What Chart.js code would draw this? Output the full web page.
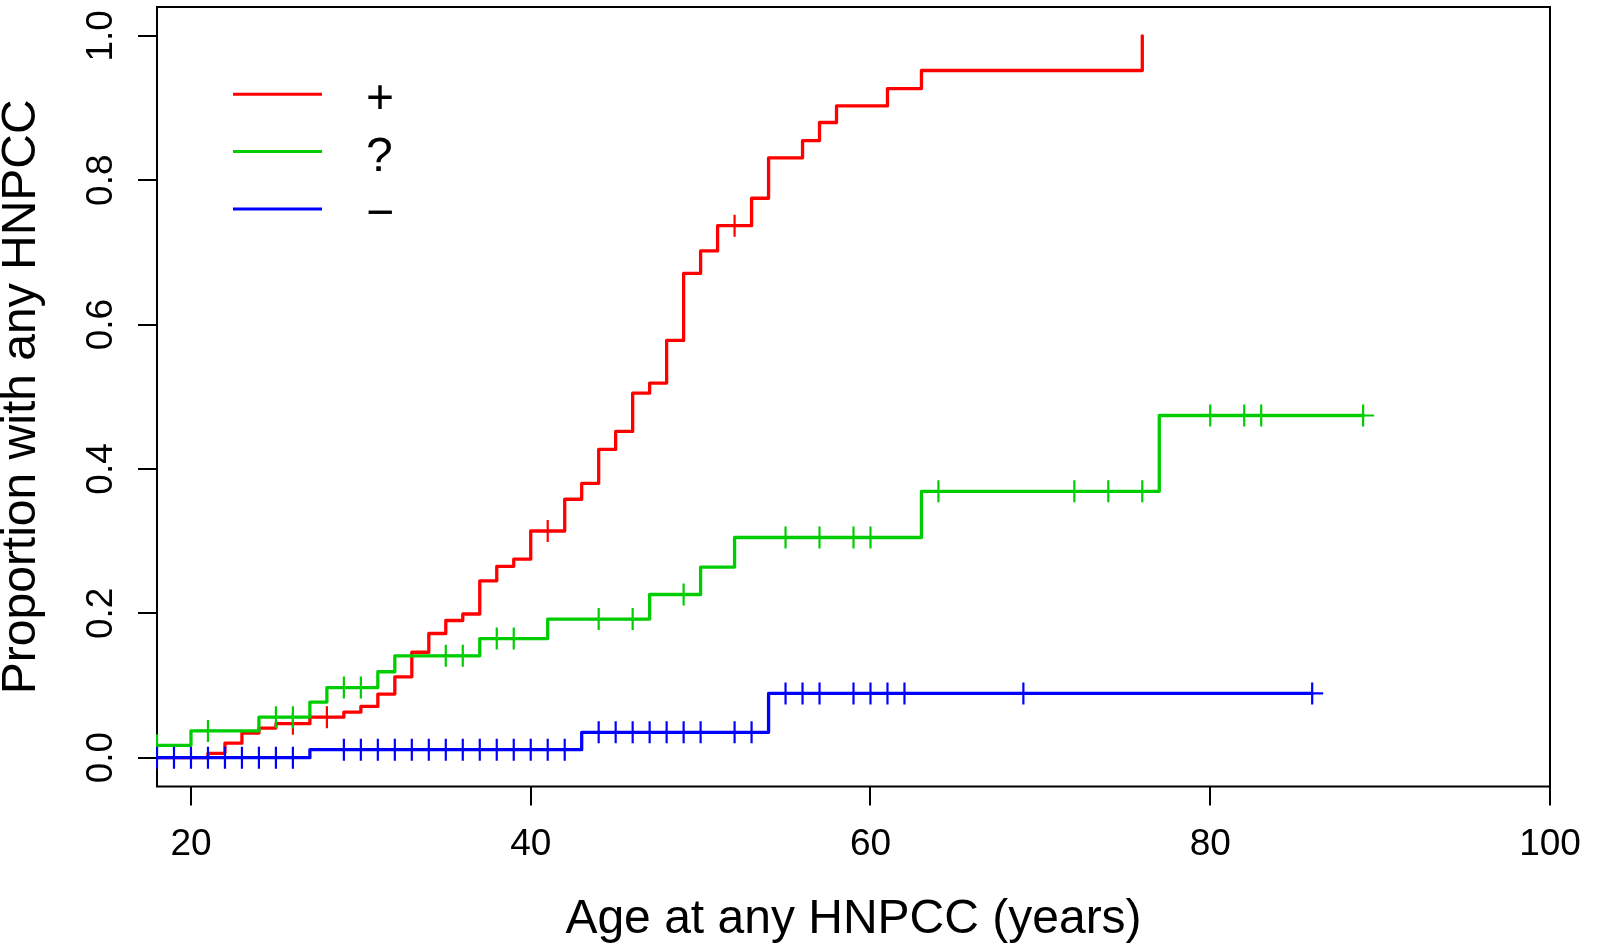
<!DOCTYPE html>
<html>
<head>
<meta charset="utf-8">
<script src="https://cdn.jsdelivr.net/npm/chart.js@4.4.1/dist/chart.umd.min.js"></script>
<style>
html, body { margin: 0; padding: 0; background: #fff; }
canvas { display: block; }
</style>
</head>
<body>
<canvas id="km" width="1599" height="951"></canvas>
<script>
// ===== DATA =====
// each curve: ages where the step happens, proportion after the step
const posAges = [18, 21, 22, 23, 24, 25, 27, 29, 30, 31, 32, 33, 34, 35, 36, 37, 38, 39, 40, 42, 43, 44, 45, 46, 47, 48, 49, 50, 51, 53, 54, 56, 57, 58, 61, 63, 76];
const posProp = [0, 0.006, 0.020, 0.034, 0.041, 0.047, 0.056, 0.063, 0.071, 0.088, 0.112, 0.146, 0.172, 0.190, 0.199, 0.245, 0.265, 0.275, 0.314, 0.358, 0.380, 0.427, 0.452, 0.505, 0.519, 0.578, 0.671, 0.702, 0.737, 0.775, 0.831, 0.855, 0.880, 0.903, 0.927, 0.952, 1.0];
const posCens = [26, 28, 41, 52];

const unkAges = [18, 20, 24, 27, 28, 31, 32, 37, 41, 47, 50, 52, 63, 77, 89];
const unkProp = [0.017, 0.037, 0.056, 0.077, 0.097, 0.119, 0.141, 0.165, 0.192, 0.226, 0.264, 0.305, 0.369, 0.474, 0.474];
const unkCens = [18, 21, 25, 26, 29, 30, 35, 36, 38, 39, 44, 46, 49, 55, 57, 59, 60, 64, 72, 74, 76, 80, 82, 83, 89];

const negAges = [18, 27, 43, 54, 86];
const negProp = [0, 0.011, 0.035, 0.089, 0.089];
const negCens = [18, 19, 20, 21, 22, 23, 24, 25, 26,
    29, 30, 31, 32, 33, 34, 35, 36, 37, 38, 39, 40, 41, 42,
    44, 45, 46, 47, 48, 49, 50, 52, 53,
    55, 56, 57, 59, 60, 61, 62, 69, 86];

const groupLabels = ["+", "?", "\u2212"];
const groupColors = ["#ff0000", "#00cd00", "#0000ff"];

const xTicks = [20, 40, 60, 80, 100];
const yTicks = [0, 0.2, 0.4, 0.6, 0.8, 1.0];
const yTickLabels = ["0.0", "0.2", "0.4", "0.6", "0.8", "1.0"];

const xTitle = "Age at any HNPCC (years)";
const yTitle = "Proportion with any HNPCC";

const FONT = "'Liberation Sans', Arial, Helvetica, sans-serif";

// ===== HELPERS =====
// value of a step curve at age t
function valueAt(ages, props, t){
    let v = props[0];
    for(let i = 0; i < ages.length; i++){
        if(ages[i] <= t) v = props[i];
    }
    return v;
}

function curve(label, ages, props, color, order){
    return {
        type: 'line',
        label: label,
        data: ages.map((a, i) => ({ x: a, y: props[i] })),
        borderColor: color,
        borderWidth: 3.3,
        stepped: true,
        pointRadius: 0,
        fill: false,
        borderCapStyle: 'round',
        borderJoinStyle: 'round',
        clip: 1,
        order: order
    };
}

function censor(ages, props, times, color, order){
    return {
        type: 'scatter',
        data: times.map(t => ({ x: t, y: valueAt(ages, props, t) })),
        pointStyle: 'cross',
        pointRadius: 11,
        pointHoverRadius: 11,
        borderColor: color,
        backgroundColor: color,
        borderWidth: 2.2,
        showLine: false,
        clip: 1,
        order: order
    };
}

// ===== PLUGINS =====
const boxPlugin = {
    id: 'box',
    beforeDatasetsDraw(chart){
        const a = chart.chartArea, ctx = chart.ctx;
        ctx.save();
        ctx.strokeStyle = '#000';
        ctx.lineWidth = 2;
        ctx.strokeRect(a.left, a.top, a.right - a.left, a.bottom - a.top);
        ctx.restore();
    }
};

const textPlugin = {
    id: 'texts',
    afterDraw(chart){
        const ctx = chart.ctx, a = chart.chartArea, ys = chart.scales.y;
        ctx.save();
        ctx.fillStyle = '#000';

        // y tick labels, rotated like R
        ctx.font = "37px " + FONT;
        ctx.textAlign = 'center';
        ctx.textBaseline = 'alphabetic';
        yTicks.forEach((v, i) => {
            ctx.save();
            ctx.translate(112, ys.getPixelForValue(v));
            ctx.rotate(-Math.PI / 2);
            ctx.fillText(yTickLabels[i], 0, 0);
            ctx.restore();
        });

        // axis titles
        ctx.font = "48px " + FONT;
        ctx.fillText(xTitle, (a.left + a.right) / 2, 933);
        ctx.save();
        ctx.translate(35, (a.top + a.bottom) / 2);
        ctx.rotate(-Math.PI / 2);
        ctx.fillText(yTitle, 0, 0);
        ctx.restore();

        // legend
        ctx.textAlign = 'left';
        groupLabels.forEach((lab, i) => {
            const y = 94.3 + i * 57.3;
            ctx.strokeStyle = groupColors[i];
            ctx.lineWidth = 3;
            ctx.beginPath();
            ctx.moveTo(233, y);
            ctx.lineTo(322, y);
            ctx.stroke();
            ctx.fillText(lab, 366, y + 19);
        });
        ctx.restore();
    }
};

// ===== CHART =====
new Chart(document.getElementById("km"), {
    type: 'line',
    data: {
        datasets: [
            curve('+', posAges, posProp, groupColors[0], 5),
            censor(posAges, posProp, posCens, groupColors[0], 4),
            curve('?', unkAges, unkProp, groupColors[1], 3),
            censor(unkAges, unkProp, unkCens, groupColors[1], 2),
            curve('-', negAges, negProp, groupColors[2], 1),
            censor(negAges, negProp, negCens, groupColors[2], 0)
        ]
    },
    options: {
        responsive: false,
        animation: false,
        events: [],
        layout: { autoPadding: false, padding: { left: 0, top: 7, right: 49, bottom: 0 } },
        plugins: {
            legend: { display: false },
            tooltip: { enabled: false }
        },
        scales: {
            x: {
                type: 'linear',
                min: 18,
                max: 100,
                afterBuildTicks: s => { s.ticks = xTicks.map(v => ({ value: v })); },
                afterFit: s => { s.height = 164.5; },
                ticks: {
                    font: { family: FONT, size: 37 },
                    color: '#000',
                    padding: 17,
                    maxRotation: 0,
                    autoSkip: false,
                    callback: v => String(v)
                },
                grid: { drawOnChartArea: false, drawTicks: true, tickLength: 19, color: '#000', lineWidth: 2 },
                border: { display: false }
            },
            y: {
                type: 'linear',
                min: -0.04,
                max: 1.04,
                afterBuildTicks: s => { s.ticks = yTicks.map(v => ({ value: v })); },
                afterFit: s => { s.width = 157; s.paddingTop = 0; s.paddingBottom = 0; },
                ticks: {
                    font: { family: FONT, size: 1 },
                    color: 'rgba(0,0,0,0)',
                    autoSkip: false
                },
                grid: { drawOnChartArea: false, drawTicks: true, tickLength: 19, color: '#000', lineWidth: 2 },
                border: { display: false }
            }
        }
    },
    plugins: [boxPlugin, textPlugin]
});
</script>
</body>
</html>
